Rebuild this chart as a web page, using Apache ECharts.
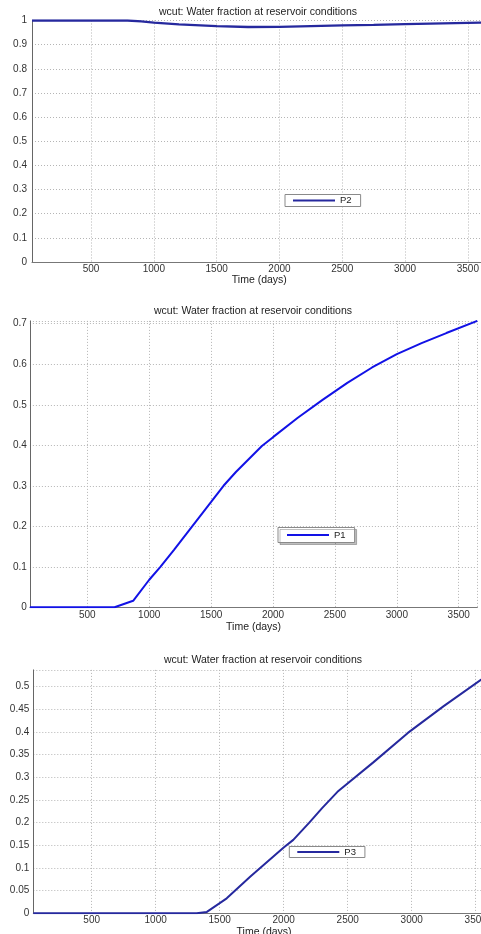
<!DOCTYPE html>
<html>
<head>
<meta charset="utf-8">
<script src="https://cdn.jsdelivr.net/npm/echarts@6/dist/echarts.min.js"></script>
<style>
  html, body { margin: 0; padding: 0; background: #fff; overflow: hidden; }
  #chart { width: 481px; height: 934px; }
</style>
</head>
<body>
<div id="chart"></div>
<script>
// Water cut (fraction of water at reservoir conditions) per producer, in days
const titleText = 'wcut: Water fraction at reservoir conditions';
const xAxisTitle = 'Time (days)';

const p2Days = [30, 200, 400, 600, 790, 900, 1000, 1200, 1500, 1750, 2000, 2250, 2500, 2750, 3000, 3300, 3600, 3650];
const p2Wcut = [1, 1, 1, 1, 1, 0.996, 0.991, 0.984, 0.977, 0.973, 0.974, 0.977, 0.980, 0.982, 0.985, 0.988, 0.991, 0.991];

const p1Days = [36, 300, 720, 870, 1000, 1090, 1200, 1500, 1600, 1700, 1910, 2000, 2200, 2400, 2600, 2800, 3000, 3200, 3400, 3650];
const p1Wcut = [0, 0, 0, 0.016, 0.068, 0.100, 0.142, 0.260, 0.300, 0.334, 0.398, 0.420, 0.468, 0.512, 0.554, 0.592, 0.625, 0.652, 0.677, 0.707];

const p3Days = [44, 400, 800, 1320, 1400, 1555, 1740, 2000, 2075, 2200, 2300, 2420, 2700, 2970, 3250, 3650];
const p3Wcut = [0, 0, 0, 0, 0.003, 0.033, 0.081, 0.145, 0.162, 0.200, 0.232, 0.268, 0.333, 0.398, 0.457, 0.537];

const xTickStep = 500;

function pairs(xs, ys) { return xs.map((x, i) => [x, ys[i]]); }

const FONT = 'Liberation Sans, Arial, Helvetica, sans-serif';
const NAVY = '#26299e';
const BLUE = '#1212e6';

// panel layout: grid box, x range, y range and step
const panels = [
  { name: 'P2', days: p2Days, wcut: p2Wcut, color: NAVY, lineWidth: 2.3,
    grid: { left: 32, top: 20.5, width: 454.7, height: 241.5 },
    xMin: 30, xMax: 3650, yMax: 1, yStep: 0.1, labelMargin: 2, nameGap: 8,
    yMargin: 5, titleX: 258, titleY: 6.5,
    legend: { left: 285, top: 194.5, padding: [1, 9, 1, 8] }, shadow: false },
  { name: 'P1', days: p1Days, wcut: p1Wcut, color: BLUE, lineWidth: 2,
    grid: { left: 29.9, top: 320.9, width: 447.4, height: 286.4 },
    xMin: 36, xMax: 3650, yMax: 0.707, yStep: 0.1, labelMargin: 3, nameGap: 12,
    yMargin: 3, titleX: 253, titleY: 305.5,
    legend: { left: 278, top: 527.5, padding: [2.5, 9, 2.5, 9] }, shadow: true },
  { name: 'P3', days: p3Days, wcut: p3Wcut, color: NAVY, lineWidth: 2,
    grid: { left: 33.3, top: 669.9, width: 461.6, height: 243.4 },
    xMin: 44, xMax: 3650, yMax: 0.537, yStep: 0.05, labelMargin: 2, nameGap: 9,
    yMargin: 4, titleX: 263, titleY: 655,
    legend: { left: 289.3, top: 846.5, padding: [0.5, 9, 0.5, 8] }, shadow: false }
];

const option = {
  backgroundColor: '#ffffff',
  animation: false,
  title: [], grid: [], xAxis: [], yAxis: [], legend: [], series: []
};

panels.forEach((p, i) => {
  option.title.push({
    text: titleText, left: p.titleX, top: p.titleY, textAlign: 'center',
    padding: 0,
    textStyle: { fontFamily: FONT, fontSize: 10.5, fontWeight: 'normal', color: '#222' }
  });
  option.grid.push(Object.assign({ containLabel: false, outerBoundsMode: 'none', show: false }, p.grid));
  option.xAxis.push({
    type: 'value', gridIndex: i, min: p.xMin, max: p.xMax,
    splitNumber: 7, minInterval: xTickStep, maxInterval: xTickStep,
    name: xAxisTitle, nameLocation: 'middle', nameGap: p.nameGap,
    nameTextStyle: { fontFamily: FONT, fontSize: 10.5, color: '#222', verticalAlign: 'top' },
    axisLine: { show: true, onZero: false, lineStyle: { color: '#777', width: 1 } },
    axisTick: { show: false },
    axisLabel: {
      margin: p.labelMargin, fontFamily: FONT, fontSize: 10, color: '#333',
      hideOverlap: false,
      formatter: v => (Math.abs(v % xTickStep) < 1e-6 && v > 0) ? String(v) : ''
    },
    splitLine: { show: true, lineStyle: { color: '#b5b5b5', type: [1, 2], width: 1 } }
  });
  option.yAxis.push({
    type: 'value', gridIndex: i, min: 0, max: p.yMax, interval: p.yStep,
    axisLine: { show: true, lineStyle: { color: '#666', width: 1 } },
    axisTick: { show: false },
    axisLabel: {
      margin: p.yMargin, fontFamily: FONT, fontSize: 10, color: '#333',
      formatter: v => {
        const k = v / p.yStep;
        if (Math.abs(k - Math.round(k)) > 1e-6) return '';
        return String(+(Math.round(k) * p.yStep).toFixed(2));
      }
    },
    splitLine: { show: true, lineStyle: { color: '#b5b5b5', type: [1, 2], width: 1 } }
  });
  option.legend.push(Object.assign({
    data: [p.name], orient: 'horizontal',
    icon: 'rect', itemWidth: 42, itemHeight: 2, itemGap: 0,
    backgroundColor: '#ffffff', borderColor: '#8a8a8a', borderWidth: 1, borderRadius: 0,
    textStyle: { fontFamily: FONT, fontSize: 9.5, color: '#222', padding: [0, 0, 0, 0] },
    selectedMode: false
  }, p.legend, p.shadow ? {
    shadowColor: 'rgba(0,0,0,0.25)', shadowOffsetX: 2, shadowOffsetY: 2, shadowBlur: 0
  } : {}));
  option.series.push({
    name: p.name, type: 'line', xAxisIndex: i, yAxisIndex: i,
    data: pairs(p.days, p.wcut), showSymbol: false, smooth: false,
    clip: true,
    lineStyle: { color: p.color, width: p.lineWidth }, itemStyle: { color: p.color }
  });
});

const chart = echarts.init(document.getElementById('chart'), null, { renderer: 'canvas' });
chart.setOption(option);
</script>
</body>
</html>
